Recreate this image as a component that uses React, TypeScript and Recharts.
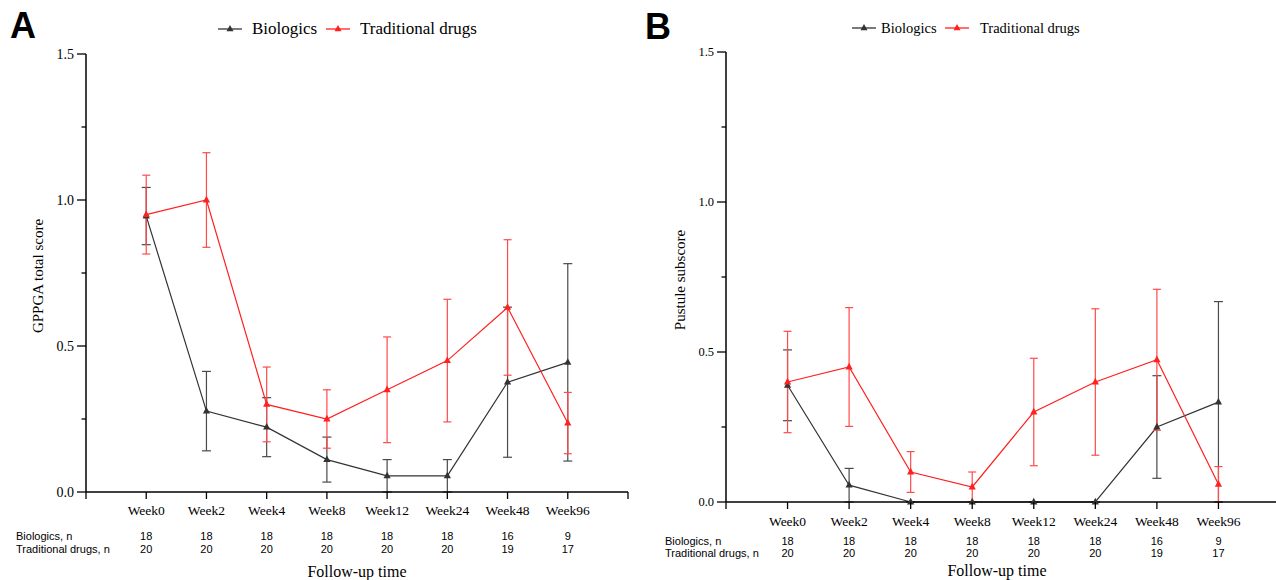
import React from "react";
import { LineChart, Line, XAxis, YAxis, ErrorBar } from "recharts";

document.body.style.margin = "0";

const weeks = ["Week0", "Week2", "Week4", "Week8", "Week12", "Week24", "Week48", "Week96"];
const bioN = [18, 18, 18, 18, 18, 18, 16, 9];
const tradN = [20, 20, 20, 20, 20, 20, 19, 17];

// A: GPPGA total score, mean and error
const gppgaBio = [0.945, 0.277, 0.222, 0.111, 0.055, 0.055, 0.376, 0.444];
const gppgaBioErr = [0.098, 0.136, 0.101, 0.077, 0.056, 0.056, 0.257, 0.338];
const gppgaTrad = [0.95, 1.0, 0.3, 0.25, 0.35, 0.45, 0.632, 0.236];
const gppgaTradErr = [0.135, 0.162, 0.128, 0.1, 0.181, 0.21, 0.232, 0.105];

// B: pustule subscore
const pustBio = [0.389, 0.056, 0, 0, 0, 0, 0.25, 0.333];
const pustBioErr = [0.118, 0.056, 0, 0, 0, 0, 0.171, 0.335];
const pustTrad = [0.4, 0.45, 0.1, 0.05, 0.3, 0.4, 0.474, 0.059];
const pustTradErr = [0.169, 0.198, 0.068, 0.05, 0.179, 0.244, 0.235, 0.059];

const yTicks = [0, 0.25, 0.5, 0.75, 1, 1.25, 1.5];
const xTicks = [-1, 0, 1, 2, 3, 4, 5, 6, 7, 8];

const BLACK = "#333333";
const RED = "#ff2020";
const SERIF = "'Liberation Serif', 'Times New Roman', serif";
const SANS = "'Liberation Sans', Arial, sans-serif";

function buildRows(bio: number[], bioErr: number[], trad: number[], tradErr: number[]) {
  return weeks.map((_, i) => ({
    x: i,
    bio: bio[i],
    bioErr: [Math.min(bioErr[i], bio[i]), bioErr[i]],
    trad: trad[i],
    tradErr: [Math.min(tradErr[i], trad[i]), tradErr[i]],
  }));
}

const triangle = (color: string) => (props: any) => {
  const { cx, cy, index } = props;
  if (cx == null || cy == null) return <g key={`n${index}`} />;
  return (
    <path
      key={`t${index}`}
      d={`M${cx},${cy - 4.2}L${cx + 3.6},${cy + 2.4}L${cx - 3.6},${cy + 2.4}Z`}
      fill={color}
    />
  );
};

interface Cfg {
  left: number;
  width: number;
  top: number;
  right: number;
  yWidth: number;
  xHeight: number;
  tickFont: number;
  weekDy: number;
  row1: number;
  row2: number;
}

function Panel({ cfg, rows }: { cfg: Cfg; rows: any[] }) {
  const yTick = (p: any) => {
    const { x, y, payload } = p;
    const v = payload.value as number;
    const major = Math.abs(v * 2 - Math.round(v * 2)) < 1e-6;
    return (
      <g>
        <line x1={x - (major ? 9 : 4.5)} x2={x} y1={y} y2={y} stroke="#000" strokeWidth={1.3} />
        {major && (
          <text x={x - 12} y={y} dy="0.35em" textAnchor="end" fontFamily={SERIF} fontSize={cfg.tickFont} fill="#000">
            {v.toFixed(1)}
          </text>
        )}
      </g>
    );
  };
  const xTick = (p: any) => {
    const { x, y, payload } = p;
    const i = payload.value as number;
    const show = i >= 0 && i < weeks.length;
    return (
      <g>
        <line x1={x} x2={x} y1={y} y2={y + 7} stroke="#000" strokeWidth={1.3} />
        {show && (
          <g>
            <text x={x} y={y + cfg.weekDy} dy="0.35em" textAnchor="middle" fontFamily={SERIF} fontSize={13.5} fill="#000">
              {weeks[i]}
            </text>
            <text x={x} y={y + cfg.row1} dy="0.35em" textAnchor="middle" fontFamily={SANS} fontSize={11} fill="#000">
              {bioN[i]}
            </text>
            <text x={x} y={y + cfg.row2} dy="0.35em" textAnchor="middle" fontFamily={SANS} fontSize={11} fill="#000">
              {tradN[i]}
            </text>
          </g>
        )}
      </g>
    );
  };
  return (
    <div style={{ position: "absolute", left: cfg.left, top: 0 }}>
      <LineChart
        width={cfg.width}
        height={580}
        data={rows}
        margin={{ top: cfg.top, right: cfg.right, bottom: 0, left: 40 }}
      >
        <XAxis
          type="number"
          dataKey="x"
          domain={[-1, 8]}
          ticks={xTicks}
          interval={0}
          height={cfg.xHeight}
          tickSize={0}
          tickMargin={0}
          tickLine={false}
          axisLine={{ stroke: "#000", strokeWidth: 1.5 }}
          tick={xTick}
        />
        <YAxis
          type="number"
          domain={[0, 1.5]}
          ticks={yTicks}
          interval={0}
          width={cfg.yWidth}
          tickSize={0}
          tickMargin={0}
          tickLine={false}
          axisLine={{ stroke: "#000", strokeWidth: 1.5 }}
          tick={yTick}
        />
        <Line
          type="linear"
          dataKey="bio"
          stroke={BLACK}
          strokeWidth={1.2}
          dot={triangle(BLACK)}
          activeDot={false}
          isAnimationActive={false}
        >
          <ErrorBar dataKey="bioErr" direction="y" width={4.5} stroke="#4a4a4a" strokeWidth={1.2} />
        </Line>
        <Line
          type="linear"
          dataKey="trad"
          stroke={RED}
          strokeWidth={1.2}
          dot={triangle(RED)}
          activeDot={false}
          isAnimationActive={false}
        >
          <ErrorBar dataKey="tradErr" direction="y" width={4} stroke="#ff4a4a" strokeWidth={1.2} />
        </Line>
      </LineChart>
    </div>
  );
}

function LegendMark({ x, y, color }: { x: number; y: number; color: string }) {
  return (
    <g>
      <line x1={x - 12} x2={x + 12} y1={y} y2={y} stroke={color} strokeWidth={1.3} />
      <path d={`M${x},${y - 4}L${x + 3.5},${y + 2.3}L${x - 3.5},${y + 2.3}Z`} fill={color} />
    </g>
  );
}

const cfgA: Cfg = {
  left: 0, width: 638, top: 54, right: 10, yWidth: 46, xHeight: 88,
  tickFont: 14, weekDy: 18, row1: 44, row2: 57,
};
const cfgB: Cfg = {
  left: 638, width: 660, top: 52, right: 18, yWidth: 48, xHeight: 78,
  tickFont: 12.5, weekDy: 19, row1: 39, row2: 51,
};

export default function App() {
  const rowsA = buildRows(gppgaBio, gppgaBioErr, gppgaTrad, gppgaTradErr);
  const rowsB = buildRows(pustBio, pustBioErr, pustTrad, pustTradErr);
  return (
    <div style={{ position: "relative", width: 1276, height: 580, overflow: "hidden", background: "#fff" }}>
      <Panel cfg={cfgA} rows={rowsA} />
      <Panel cfg={cfgB} rows={rowsB} />
      <svg width={1276} height={580} style={{ position: "absolute", left: 0, top: 0, pointerEvents: "none" }}>
        <text x={10} y={38} fontFamily={SANS} fontWeight="bold" fontSize={36}>A</text>
        <text x={645} y={39} fontFamily={SANS} fontWeight="bold" fontSize={36}>B</text>

        <LegendMark x={230} y={29} color={BLACK} />
        <text x={252} y={34} fontFamily={SERIF} fontSize={17}>Biologics</text>
        <LegendMark x={338} y={29} color={RED} />
        <text x={360} y={34} fontFamily={SERIF} fontSize={17}>Traditional drugs</text>

        <LegendMark x={864} y={28} color={BLACK} />
        <text x={881} y={33} fontFamily={SERIF} fontSize={14.5}>Biologics</text>
        <LegendMark x={957} y={28} color={RED} />
        <text x={980} y={33} fontFamily={SERIF} fontSize={14.5}>Traditional drugs</text>

        <text transform="translate(38,276) rotate(-90)" textAnchor="middle" dy="0.35em" fontFamily={SERIF} fontSize={15}>
          GPPGA total score
        </text>
        <text transform="translate(680,280) rotate(-90)" textAnchor="middle" dy="0.35em" fontFamily={SERIF} fontSize={15}>
          Pustule subscore
        </text>

        <text x={16} y={540} fontFamily={SANS} fontSize={11}>Biologics, n</text>
        <text x={16} y={553} fontFamily={SANS} fontSize={11}>Traditional drugs, n</text>
        <text x={665} y={545} fontFamily={SANS} fontSize={11}>Biologics, n</text>
        <text x={665} y={557} fontFamily={SANS} fontSize={11}>Traditional drugs, n</text>

        <text x={357} y={577} textAnchor="middle" fontFamily={SERIF} fontSize={16}>Follow-up time</text>
        <text x={997} y={576} textAnchor="middle" fontFamily={SERIF} fontSize={16}>Follow-up time</text>
      </svg>
    </div>
  );
}
